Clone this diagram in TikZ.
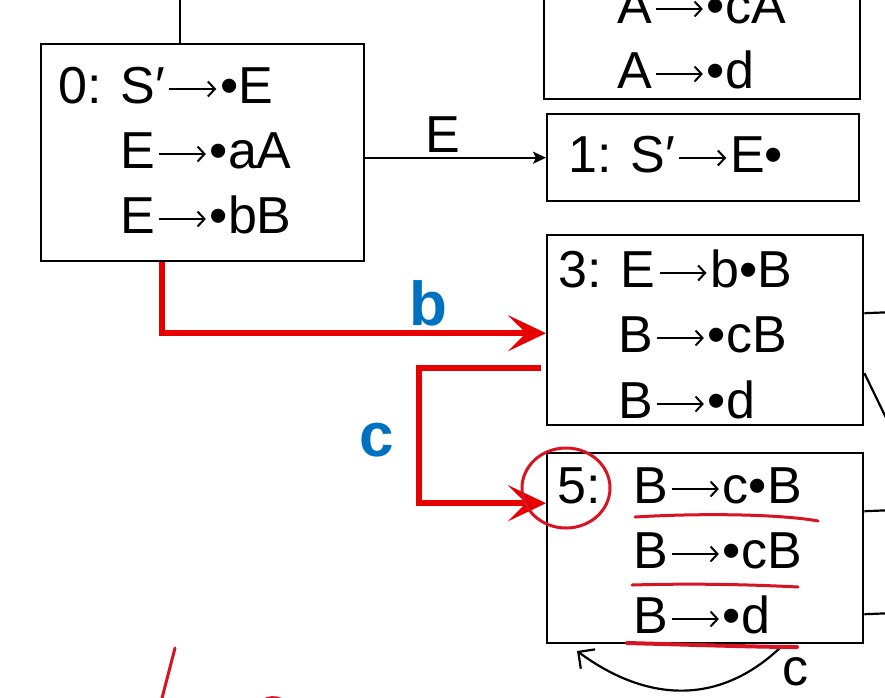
\documentclass[tikz,border=0pt]{standalone}
\usepackage{fontspec}
\setmainfont{Liberation Sans}
\usetikzlibrary{arrows.meta,calc}
\newcommand\myarr{\hspace{3pt}\tikz[baseline=0pt,x=1pt,y=1pt]\draw[line width=2pt,-{Straight Barb[length=7pt,width=15pt,line width=2pt]}] (0,14) -- (47,14);\hspace{3pt}}
\definecolor{arred}{RGB}{230,0,0}
\definecolor{ulred}{RGB}{215,20,35}
\definecolor{lblue}{RGB}{0,112,192}
\tikzset{
  box/.style={draw=black, line width=2.4pt, inner sep=0pt, anchor=north west, fill=none},
  txt/.style={inner sep=0pt, anchor=base west, font=\fontsize{52}{60}\selectfont},
  blk/.style={draw=black, line width=2.2pt},
  redarr/.style={draw=arred, line width=6pt, line join=miter,
     -{Stealth[length=38pt,width=36pt,inset=18pt]}},
  blbl/.style={text=lblue, inner sep=0pt, font=\fontsize{62}{70}\selectfont\bfseries},
  annot/.style={draw=ulred, line width=3pt, line cap=round},
}
\begin{document}
\begin{tikzpicture}[x=1pt,y=-1pt]
\useasboundingbox (0,0) rectangle (885,697);
\clip (0,0) rectangle (885,697);
\fill[white] (0,0) rectangle (885,697);

% boxes
\node[box, minimum width=323pt, minimum height=217pt] (s0) at (40,43) {};
\node[box, minimum width=316pt, minimum height=130pt] (sA) at (543,-32) {};
\node[box, minimum width=312pt, minimum height=87pt] (s1) at (546,113) {};
\node[box, minimum width=316pt, minimum height=190pt] (s3) at (546,234) {};
\node[box, minimum width=316pt, minimum height=190pt] (s5) at (546,452) {};

% texts
\node[txt] (t0a) at (58,103) {0: S′\myarr•E};
\node[txt] (t0b) at (120,168) {E\myarr•aA};
\node[txt] (t0c) at (120,233) {E\myarr•bB};
\node[txt] (tAa) at (617,23) {A\myarr•cA};
\node[txt] (tAb) at (617,88) {A\myarr•d};
\node[txt] (t1) at (568,172) {1: S′\myarr E•};
\node[txt] (t3a) at (558,287) {3: E\myarr b•B};
\node[txt] (t3b) at (618,352) {B\myarr•cB};
\node[txt] (t3c) at (618,418) {B\myarr•d};
\node[txt] (t5a) at (557,503) {5:};
\node[txt] (t5b) at (633,503) {B\myarr c•B};
\node[txt] (t5c) at (633,568) {B\myarr•cB};
\node[txt] (t5d) at (633,633) {B\myarr•d};

% coordinates for free ends
\coordinate (top0) at (180,-10);
\coordinate (r1) at (895,312);
\coordinate (r2) at (890,426);
\coordinate (r3) at (895,510);
\coordinate (r4) at (895,613);
\coordinate (loopend) at (577,651);

% black connectors
\draw[blk] (top0) -- ([xshift=140pt]s0.north west);
\draw[blk, -{Stealth[length=13pt,width=12pt,inset=3pt]}] (s0.east |- s1.west) -- (s1.west)
   node[pos=0.43, above, inner sep=4pt, font=\fontsize{52}{60}\selectfont] (lE) {E};
\draw[blk] ([yshift=17pt]s3.east) -- (r1);
\draw[blk] ([yshift=-43pt]s3.east) -- (r2);
\draw[blk] ([yshift=37pt]s5.east) -- (r3);
\draw[blk] ([yshift=-66pt]s5.east) -- (r4);
\draw[blk, -{Straight Barb[length=12pt,width=24pt]}] ([xshift=-85pt,yshift=-4pt]s5.south east)
   .. controls (720,704) and (649,704) .. (loopend);
\node[inner sep=0pt, font=\fontsize{52}{60}\selectfont] (lc) at (795,672) {c};

% red connectors
\draw[redarr] ([xshift=122pt]s0.south west) |- ([yshift=-3pt]s3.west);
\draw[redarr] ([xshift=-5pt,yshift=-38pt]s3.west) -- ++(-122,0) |- ([yshift=45pt]s5.west);
\node[blbl] (lb) at (428,303) {b};
\node[blbl] (lc2) at (377,440) {c};

% hand annotations
\draw[annot] (566,488) ellipse [x radius=44, y radius=40];
\draw[annot] (635,517) .. controls (700,513) and (780,514) .. (818,521);
\draw[annot] (632,585) .. controls (700,583) and (760,585) .. (798,587);
\draw[annot, line width=4pt] (627,643) .. controls (700,645) and (760,647) .. (797,647);
\draw[annot] (175,648) -- (161,702);
\draw[annot] (256,708) .. controls (263,695) and (280,694) .. (290,706);
\end{tikzpicture}
\end{document}
